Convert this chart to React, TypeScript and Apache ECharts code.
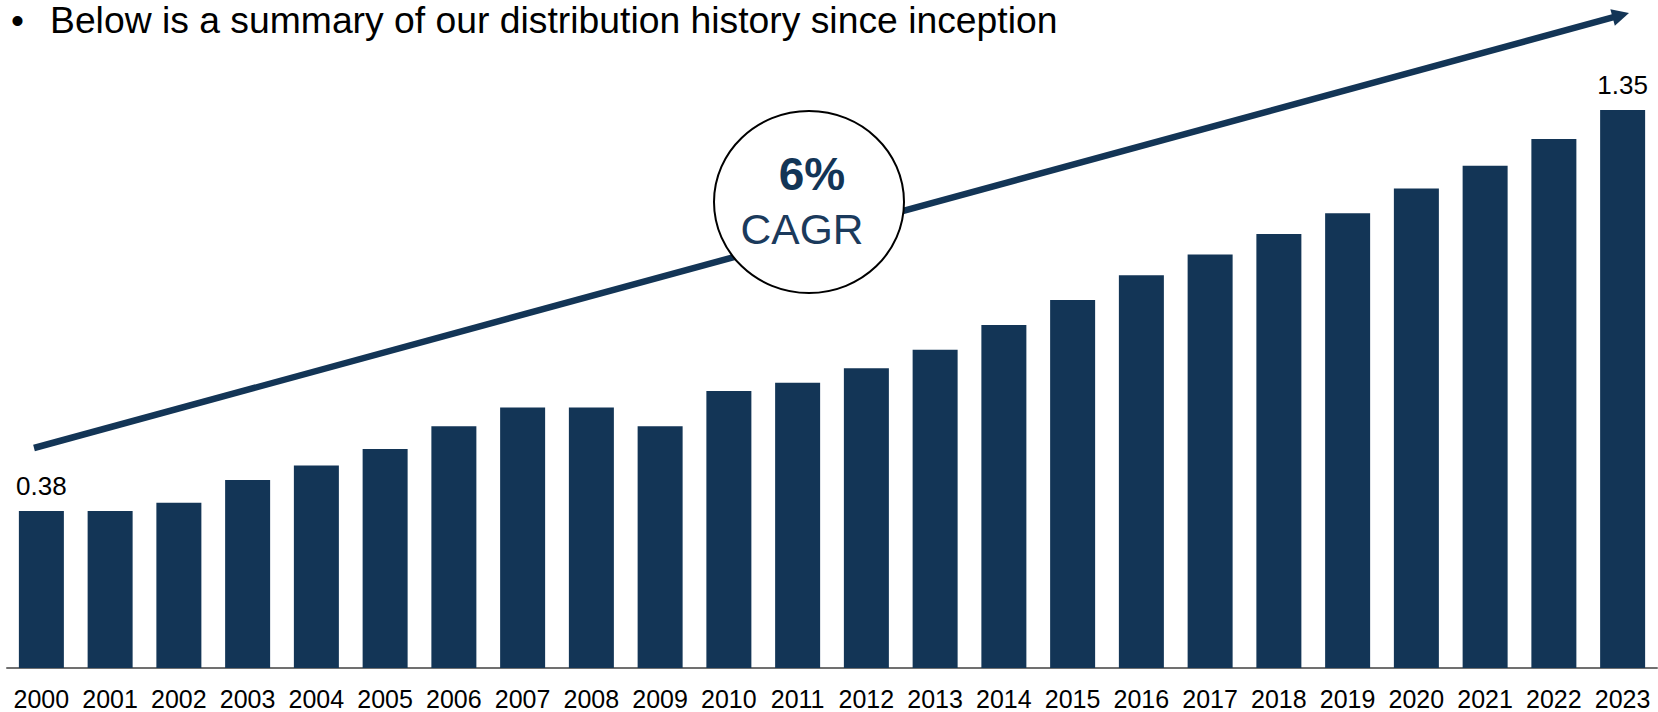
import React, { useEffect, useRef } from "react";
import * as echarts from "echarts";

const years = ["2000","2001","2002","2003","2004","2005","2006","2007","2008","2009","2010","2011","2012","2013","2014","2015","2016","2017","2018","2019","2020","2021","2022","2023"];
const distributions = [0.38,0.38,0.40,0.455,0.49,0.53,0.585,0.63,0.63,0.585,0.67,0.69,0.725,0.77,0.83,0.89,0.95,1.0,1.05,1.10,1.16,1.215,1.28,1.35];
const titleText = "Below is a summary of our distribution history since inception";
const cagrValue = "6%";
const cagrLabel = "CAGR";

const NAVY = "#133556";
const FONT = "'Liberation Sans', Arial, sans-serif";

export default function App() {
  const ref = useRef<HTMLDivElement>(null);
  useEffect(() => {
    document.body.style.margin = "0";
    document.body.style.overflow = "hidden";
    const chart = echarts.init(ref.current!, null, { renderer: "svg" });
    const last = distributions.length - 1;
    const data = distributions.map((v, i) =>
      i === 0 || i === last ? { value: v, label: { show: true } } : v
    );
    // arrow geometry
    const x0 = 34, y0 = 448, tx = 1629, ty = 13;
    const dx = tx - x0, dy = ty - y0;
    const len = Math.sqrt(dx * dx + dy * dy);
    const ux = dx / len, uy = dy / len;
    const nx = -uy, ny = ux;
    const headLen = 17, headHalf = 8.5;
    const bx = tx - headLen * ux, by = ty - headLen * uy;
    chart.setOption({
      animation: false,
      grid: { left: 7, right: 1, top: 50, bottom: 44, containLabel: false },
      xAxis: {
        type: "category",
        data: years,
        axisLine: { lineStyle: { color: "#707070", width: 2 } },
        axisTick: { show: false },
        axisLabel: { color: "#000", fontSize: 25, fontFamily: FONT, margin: 18, interval: 0 },
      },
      yAxis: {
        type: "value",
        min: 0,
        max: 1.495,
        show: false,
        splitLine: { show: false },
      },
      series: [
        {
          type: "bar",
          data,
          barWidth: 45,
          itemStyle: { color: NAVY },
          label: {
            show: false,
            position: "top",
            distance: 12,
            color: "#000",
            fontSize: 26,
            fontFamily: FONT,
            formatter: (p: any) => Number(p.value).toFixed(2),
          },
          z: 2,
        },
      ],
      graphic: [
        {
          type: "text",
          x: 11,
          y: 20,
          style: {
            text: "•",
            fontSize: 37,
            fontFamily: FONT,
            fill: "#000",
            textAlign: "left",
            textVerticalAlign: "middle",
          },
          silent: true,
        },
        {
          type: "text",
          x: 50,
          y: 20,
          style: {
            text: titleText,
            fontSize: 37.3,
            fontFamily: FONT,
            fill: "#000",
            textAlign: "left",
            textVerticalAlign: "middle",
          },
          silent: true,
        },
        {
          type: "line",
          shape: { x1: x0, y1: y0, x2: bx + 2 * ux, y2: by + 2 * uy },
          style: { stroke: NAVY, lineWidth: 6.5 },
          z: 10,
          silent: true,
        },
        {
          type: "polygon",
          shape: {
            points: [
              [tx, ty],
              [bx + headHalf * nx, by + headHalf * ny],
              [bx - headHalf * nx, by - headHalf * ny],
            ],
          },
          style: { fill: NAVY },
          z: 10,
          silent: true,
        },
        {
          type: "ellipse",
          shape: { cx: 809, cy: 202, rx: 95, ry: 91 },
          style: { fill: "#fff", stroke: "#000", lineWidth: 2 },
          z: 20,
          silent: true,
        },
        {
          type: "text",
          x: 812,
          y: 174,
          style: {
            text: cagrValue,
            fontSize: 46,
            fontWeight: "bold",
            fontFamily: FONT,
            fill: NAVY,
            textAlign: "center",
            textVerticalAlign: "middle",
          },
          z: 21,
          silent: true,
        },
        {
          type: "text",
          x: 802,
          y: 229,
          style: {
            text: cagrLabel,
            fontSize: 42.5,
            fontFamily: FONT,
            fill: "#1b3a5c",
            textAlign: "center",
            textVerticalAlign: "middle",
          },
          z: 21,
          silent: true,
        },
      ],
    });
    return () => chart.dispose();
  }, []);
  return <div ref={ref} style={{ width: 1658, height: 712 }} />;
}
